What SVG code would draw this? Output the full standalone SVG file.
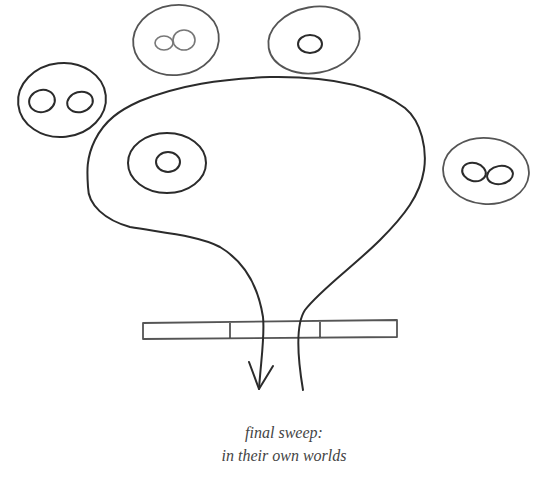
<svg xmlns="http://www.w3.org/2000/svg" width="537" height="481" viewBox="0 0 537 481">
<style>
.s{fill:none;stroke:#2b2b2b;stroke-width:2;stroke-linecap:round;stroke-linejoin:round}
.l{fill:none;stroke:#555;stroke-width:1.8;stroke-linecap:round}
.g{fill:none;stroke:#777;stroke-width:1.6}
.t{font-family:"Liberation Serif",serif;font-style:italic;font-size:16px;fill:#444;text-anchor:middle}
</style>
<rect width="537" height="481" fill="#fff"/>
<g id="world-top-left">
<ellipse class="l" cx="176" cy="40" rx="43" ry="35" transform="rotate(-8 176 40)"/>
<ellipse class="g" cx="164" cy="43" rx="9" ry="7"/>
<ellipse class="g" cx="184" cy="40" rx="11" ry="10"/>
</g>
<g id="world-top-right">
<ellipse class="l" cx="314" cy="40" rx="46" ry="33" transform="rotate(-10 314 40)"/>
<ellipse class="s" cx="310" cy="44" rx="12" ry="9"/>
</g>
<g id="world-left">
<ellipse class="s" cx="62" cy="100" rx="44" ry="37" transform="rotate(-6 62 100)"/>
<ellipse class="s" cx="42" cy="101" rx="13" ry="11" transform="rotate(-15 42 101)"/>
<ellipse class="s" cx="80" cy="102" rx="13" ry="10" transform="rotate(-15 80 102)"/>
</g>
<g id="world-center">
<ellipse class="s" cx="167" cy="163" rx="39" ry="30"/>
<ellipse class="s" cx="168" cy="162" rx="12" ry="10"/>
</g>
<g id="world-right">
<ellipse class="l" cx="486" cy="171" rx="43" ry="33" transform="rotate(5 486 171)"/>
<ellipse class="s" cx="474" cy="172" rx="12" ry="9" transform="rotate(15 474 172)"/>
<ellipse class="s" cx="500" cy="175" rx="13" ry="9" transform="rotate(-10 500 175)"/>
</g>
<g id="bar">
<path class="l" d="M143 323 L397 320 M143 339 L397 337 M143 323 V339 M397 320 V337 M230 322 V338 M320 321 V338"/>
</g>
<g id="connectors">
<path class="s" d="M259 389 C261 360 265 335 263 317 C258 285 245 262 220 247 C200 236 165 233 130 227 C105 220 88 205 88 187 C87 172 86 158 95 140 C105 120 120 110 140 101 C180 85 220 79 270 77 C330 76 375 85 405 108 C422 122 427 150 424 170 C420 195 405 215 380 240 C355 265 320 290 305 310 C295 325 298 360 303 390"/>
<path class="s" d="M249 362 L259 389 L273 366"/>
</g>
<text class="t" x="284" y="438">final sweep:</text>
<text class="t" x="284" y="461">in their own worlds</text>
</svg>
